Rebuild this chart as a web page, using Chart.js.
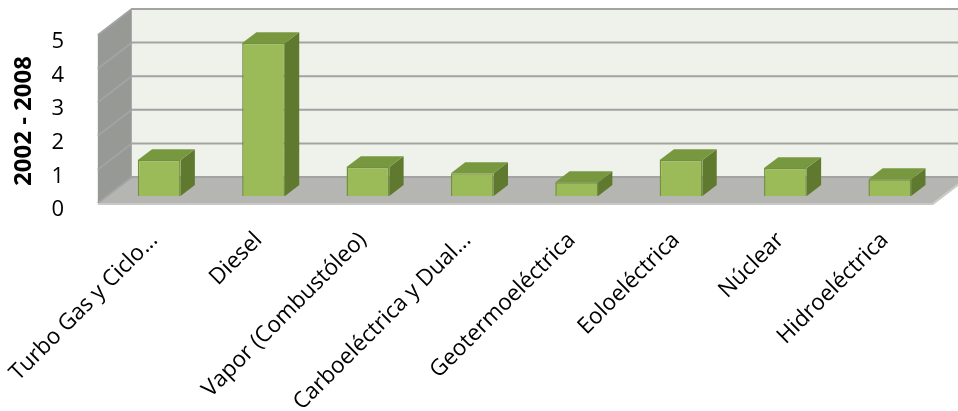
<!DOCTYPE html>
<html>
<head>
<meta charset="utf-8">
<script src="https://cdn.jsdelivr.net/npm/chart.js@4/dist/chart.umd.min.js"></script>
<style>
  html, body { margin: 0; padding: 0; background: #fff; }
  #chart { display: block; }
</style>
</head>
<body>
<canvas id="chart" width="958" height="411"></canvas>
<script>
// Excel-style 3D column chart, redrawn with Chart.js + a small "box" plugin

const CATEGORIES = [
    'Turbo Gas y Ciclo...',
    'Diesel',
    'Vapor (Combustóleo)',
    'Carboeléctrica y Dual...',
    'Geotermoeléctrica',
    'Eoloeléctrica',
    'Núclear',
    'Hidroeléctrica'
];
const VALUES = [1.07, 4.55, 0.86, 0.68, 0.41, 1.07, 0.83, 0.5];
const Y_TICKS = [0, 1, 2, 3, 4, 5];
const Y_TITLE = '2002 - 2008';

// depth of the box (front edge -> back wall) and where the bars sit in it
const DEPTH = { x: 34, y: -26 };
const BAR_PLANE = 0.27;          // fraction of depth from the front edge
const BAR_DEPTH = 0.42;          // bar thickness as fraction of depth

const COLORS = {
    wall: '#EEF2EA',
    side: '#979995',
    floor: '#B5B6B1',
    grid: '#A3A3A3',
    barFront: '#9BBB59',
    barBorder: '#71913A',
    barTop: '#789840',
    barSide: '#5F7A2F'
};

function poly(ctx, pts, fill) {
    ctx.beginPath();
    ctx.moveTo(pts[0][0], pts[0][1]);
    for (let i = 1; i < pts.length; i++) ctx.lineTo(pts[i][0], pts[i][1]);
    ctx.closePath();
    ctx.fillStyle = fill;
    ctx.fill();
}

// keep chart.js from growing the chart area around the rotated labels
function noPadding(s) {
    s.paddingLeft = s.paddingRight = s.paddingTop = s.paddingBottom = 0;
}

const box3d = {
    id: 'box3d',
    beforeDatasetsDraw(chart) {
        const { ctx, chartArea: a, scales: { y } } = chart;
        const fx = -BAR_PLANE * DEPTH.x, fy = -BAR_PLANE * DEPTH.y;            // front offset
        const bx = (1 - BAR_PLANE) * DEPTH.x, by = (1 - BAR_PLANE) * DEPTH.y;  // back offset
        const y0 = y.getPixelForValue(0), yTop = y.getPixelForValue(Y_TICKS[Y_TICKS.length - 1]);
        const fl = a.left + fx, fr = a.right + fx, bl = a.left + bx, br = a.right + bx;

        ctx.save();
        // back wall
        poly(ctx, [[bl, yTop + by], [br, yTop + by], [br, y0 + by], [bl, y0 + by]], COLORS.wall);
        // left side wall
        poly(ctx, [[fl, y0 + fy], [fl, yTop + fy], [bl, yTop + by], [bl, y0 + by]], COLORS.side);
        // floor
        poly(ctx, [[fl, y0 + fy], [fr, y0 + fy], [br, y0 + by], [bl, y0 + by]], COLORS.floor);

        // gridlines on back and side walls
        ctx.strokeStyle = COLORS.grid;
        ctx.lineWidth = 2;
        Y_TICKS.forEach(v => {
            const p = y.getPixelForValue(v);
            ctx.beginPath();
            ctx.moveTo(fl, p + fy);
            ctx.lineTo(bl, p + by);
            ctx.lineTo(br, p + by);
            ctx.stroke();
        });
        // floor front edge
        ctx.strokeStyle = '#C9C9C7';
        ctx.beginPath();
        ctx.moveTo(fl, y0 + fy + 1);
        ctx.lineTo(fr, y0 + fy + 1);
        ctx.lineTo(br, y0 + by + 1);
        ctx.stroke();

        // bar tops and right sides
        const dx = BAR_DEPTH * DEPTH.x, dy = BAR_DEPTH * DEPTH.y;
        chart.getDatasetMeta(0).data.forEach(bar => {
            const { x, y: top, base, width } = bar.getProps(['x', 'y', 'base', 'width'], true);
            const l = x - width / 2, r = x + width / 2;
            poly(ctx, [[r, top], [r, base], [r + dx, base + dy], [r + dx, top + dy]], COLORS.barSide);
            poly(ctx, [[l, top], [r, top], [r + dx, top + dy], [l + dx, top + dy]], COLORS.barTop);
        });
        ctx.restore();
    },
    // axis title sits a bit lower than chart.js would centre it
    afterDraw(chart) {
        const { ctx } = chart;
        ctx.save();
        ctx.translate(24, 121);
        ctx.rotate(-Math.PI / 2);
        ctx.font = "bold 24px 'Open Sans', sans-serif";
        ctx.fillStyle = '#000';
        ctx.textAlign = 'center';
        ctx.textBaseline = 'middle';
        ctx.fillText(Y_TITLE, 0, 0);
        ctx.restore();
    }
};

Chart.defaults.font.family = "'Open Sans', sans-serif";
Chart.defaults.color = '#000';

new Chart(document.getElementById('chart'), {
    type: 'bar',
    data: {
        labels: CATEGORIES,
        datasets: [{
            data: VALUES,
            backgroundColor: COLORS.barFront,
            borderColor: COLORS.barBorder,
            borderWidth: 1.5,
            barPercentage: 0.41,
            categoryPercentage: 1
        }]
    },
    options: {
        responsive: false,
        animation: false,
        events: [],
        layout: { padding: { top: 28, right: 16, bottom: 0, left: 0 } },
        plugins: { legend: { display: false }, tooltip: { enabled: false } },
        scales: {
            x: {
                grid: { display: false },
                border: { display: false },
                ticks: {
                    autoSkip: false,
                    minRotation: 45,
                    maxRotation: 45,
                    padding: 23,
                    labelOffset: -5,
                    font: { size: 22.5 }
                },
                afterFit: s => { s.height = 215; noPadding(s); }
            },
            y: {
                min: 0,
                max: 5,
                grid: { display: false },
                border: { display: false },
                afterBuildTicks: s => { s.ticks = Y_TICKS.map(v => ({ value: v })); },
                ticks: { padding: 35, labelOffset: 14, font: { size: 22 } },
                afterFit: s => { s.width = 107; noPadding(s); }
            }
        }
    },
    plugins: [box3d]
});
</script>
</body>
</html>
